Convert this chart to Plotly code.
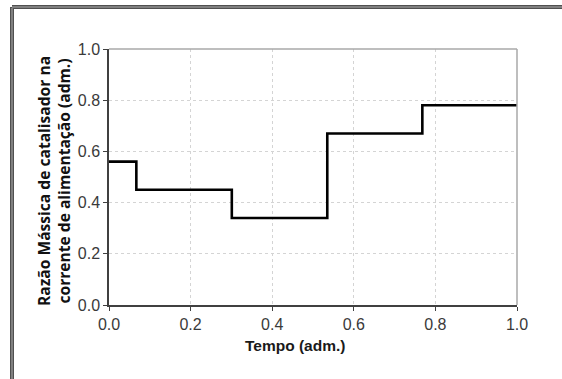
import plotly.graph_objects as go

# Step change times (adm.) and feed catalyst mass ratio (adm.)
tempo = [0.0, 0.067, 0.301, 0.535, 0.768, 1.0]
razao = [0.56, 0.45, 0.34, 0.67, 0.78, 0.78]

x_ticks = [0.0, 0.2, 0.4, 0.6, 0.8, 1.0]
y_ticks = [0.0, 0.2, 0.4, 0.6, 0.8, 1.0]
x_tick_labels = ["0.0", "0.2", "0.4", "0.6", "0.8", "1.0"]
y_tick_labels = ["0.0", "0.2", "0.4", "0.6", "0.8", "1.0"]
x_title = "Tempo (adm.)"
y_title = "Razão Mássica de catalisador na<br>corrente de alimentação (adm.)"

W, H = 562, 379
L, R, T, B = 109, 45, 49, 74
pw, ph = W - L - R, H - T - B

def px(xpix):
    return (xpix - L) / pw

def py(ypix):
    return (H - B - ypix) / ph

fig = go.Figure()
fig.add_trace(go.Scatter(
    x=tempo, y=razao, mode="lines", line=dict(shape="hv", color="black", width=2.6),
    showlegend=False, hoverinfo="skip"))

tick_font = dict(family="Liberation Sans, Arial, sans-serif", size=16, color="#3a3a3a")

fig.update_layout(
    width=W, height=H,
    margin=dict(l=L, r=R, t=T, b=B),
    paper_bgcolor="white", plot_bgcolor="white",
    xaxis=dict(
        range=[0, 1], tickvals=x_ticks, ticktext=x_tick_labels, tickfont=tick_font,
        showgrid=True, gridcolor="#d4d4d4", griddash="dot", gridwidth=1,
        showline=True, linecolor="#404040", linewidth=1.5,
        ticks="outside", ticklen=4, tickcolor="#404040",
        zeroline=False,
    ),
    yaxis=dict(
        range=[0, 1], tickvals=y_ticks, ticktext=y_tick_labels, tickfont=tick_font,
        showgrid=True, gridcolor="#d4d4d4", griddash="dot", gridwidth=1,
        showline=True, linecolor="#404040", linewidth=1.5,
        ticks="outside", ticklen=4, tickcolor="#404040",
        zeroline=False,
    ),
    annotations=[
        dict(text="<b>" + x_title + "</b>", xref="paper", yref="paper",
             x=px(295), y=py(345), xanchor="center", yanchor="middle", showarrow=False,
             font=dict(family="Liberation Sans, Arial, sans-serif", size=15.5, color="#1a1a1a")),
        dict(text="<b>" + y_title + "</b>", xref="paper", yref="paper",
             x=px(54), y=py(181), xanchor="center", yanchor="middle", showarrow=False,
             textangle=-90,
             font=dict(family="Open Sans, sans-serif", size=15.6, color="#111111")),
    ],
    shapes=[
        # lighter top and right plot border
        dict(type="line", xref="paper", yref="paper", x0=0, x1=1, y0=1, y1=1,
             line=dict(color="#a8a8a8", width=1.5)),
        dict(type="line", xref="paper", yref="paper", x0=1, x1=1, y0=0, y1=1,
             line=dict(color="#a8a8a8", width=1.5)),
        # outer frame (double line)
        dict(type="line", xref="paper", yref="paper", x0=px(12), x1=px(12), y0=py(7), y1=py(H + 5),
             line=dict(color="#505050", width=4)),
        dict(type="line", xref="paper", yref="paper", x0=px(12), x1=px(W + 5), y0=py(7), y1=py(7),
             line=dict(color="#505050", width=4)),
        dict(type="line", xref="paper", yref="paper", x0=px(12), x1=px(12), y0=py(8), y1=py(H + 5),
             line=dict(color="#b0b0b0", width=1)),
        dict(type="line", xref="paper", yref="paper", x0=px(12), x1=px(W + 5), y0=py(7), y1=py(7),
             line=dict(color="#b0b0b0", width=1)),
    ],
)

fig.write_html("out.html")
